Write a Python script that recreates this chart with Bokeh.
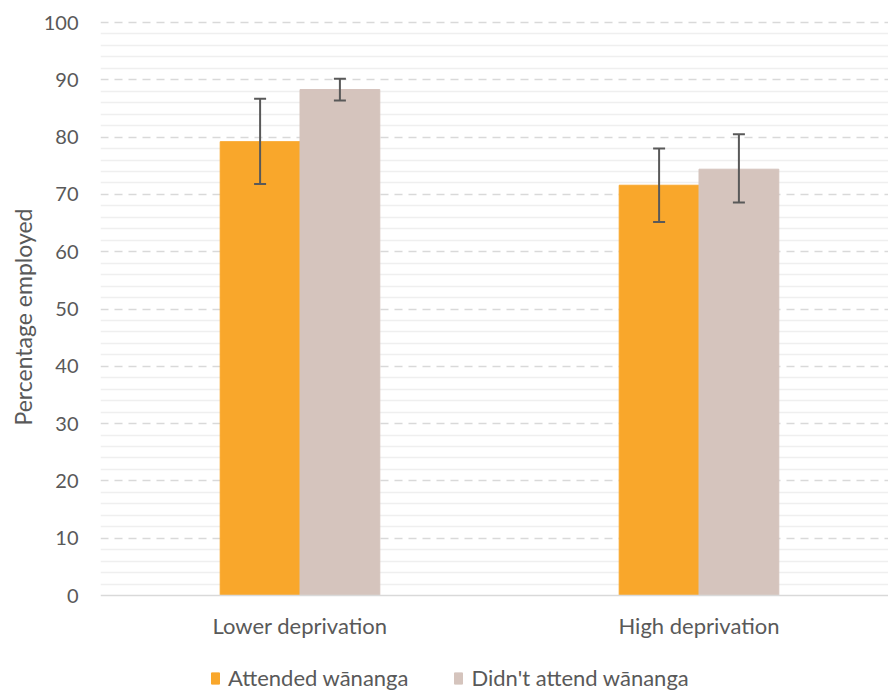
from bokeh.plotting import figure
from bokeh.models import (Range1d, FixedTicker, Legend, LegendItem, ColumnDataSource, Whisker,
                          LinearAxis, Title)
from bokeh.embed import file_html
from bokeh.resources import INLINE

categories = ["Lower deprivation", "High deprivation"]
series_names = ["Attended wānanga", "Didn't attend wānanga"]
attended = [79.2, 71.6]
attended_low = [71.8, 65.2]
attended_high = [86.7, 78.0]
not_attended = [88.3, 74.4]
not_attended_low = [86.4, 68.6]
not_attended_high = [90.2, 80.5]
colors = ["#F9A72B", "#D5C4BD"]

FONT = "Lato"
TXT = "#595959"

# value 0 sits at y=595 px, 100 at y=22 px; frame runs to the bottom of the canvas
px_per_unit = (595 - 22) / 100
top_px = 16
y_start = -(690 - 595) / px_per_unit
y_end = 100 + (22 - top_px) / px_per_unit

p = figure(width=888, height=690, output_backend="svg", toolbar_location=None,
           x_range=Range1d(0, 788 / 399), y_range=Range1d(y_start, y_end),
           x_axis_location=None,
           min_border_left=100, min_border_top=top_px, min_border_bottom=0, min_border_right=0)
p.outline_line_color = None
p.background_fill_color = "white"

centers = [i + 0.5 for i in range(len(categories))]
bw = 0.2
series = [(attended, attended_low, attended_high), (not_attended, not_attended_low, not_attended_high)]
renderers = []
for k, (vals, lo, hi) in enumerate(series):
    xs = [c + (k - 0.5) * bw for c in centers]
    src = ColumnDataSource(dict(x=xs, top=vals, lo=lo, hi=hi))
    r = p.vbar(x="x", top="top", width=bw, source=src, fill_color=colors[k],
               line_color=colors[k], line_width=1)
    renderers.append(r)
    w = Whisker(base="x", lower="lo", upper="hi", source=src, line_color="#595959",
                line_width=2, level="overlay")
    for h in (w.upper_head, w.lower_head):
        h.size = 12
        h.line_color = "#595959"
        h.line_width = 2
    p.add_layout(w)

minor = [v for v in range(0, 101, 2) if v % 10]
p.ygrid.ticker = FixedTicker(ticks=list(range(10, 101, 10)), minor_ticks=minor)
p.ygrid.grid_line_color = "#D9D9D9"
p.ygrid.grid_line_dash = "8 6"
p.ygrid.grid_line_width = 1.5
p.ygrid.minor_grid_line_color = "#EFEFEF"
p.ygrid.minor_grid_line_width = 1.5
p.xgrid.grid_line_color = None

p.yaxis.ticker = FixedTicker(ticks=list(range(0, 101, 10)), minor_ticks=minor)
p.yaxis.axis_line_color = None
p.yaxis.major_tick_line_color = None
p.yaxis.minor_tick_line_color = None
p.yaxis.major_tick_out = 0
p.yaxis.major_tick_in = 0
p.yaxis.minor_tick_out = 0
p.yaxis.minor_tick_in = 0
p.yaxis.major_label_text_font = FONT
p.yaxis.major_label_text_font_size = "20px"
p.yaxis.major_label_text_color = TXT
p.yaxis.major_label_standoff = 22

ytitle = Title(text="Percentage employed", align="left", offset=265, standoff=8,
               text_font=FONT, text_font_size="23px", text_font_style="normal",
               text_color=TXT)
p.add_layout(ytitle, "left")

xaxis = LinearAxis(fixed_location=0, ticker=FixedTicker(ticks=centers),
                   major_label_overrides={c: name for c, name in zip(centers, categories)})
xaxis.axis_line_color = "#D9D9D9"
xaxis.axis_line_width = 1.5
xaxis.major_tick_line_color = None
xaxis.minor_tick_line_color = None
xaxis.major_tick_out = 0
xaxis.major_tick_in = 0
xaxis.minor_tick_out = 0
xaxis.minor_tick_in = 0
xaxis.major_label_text_font = FONT
xaxis.major_label_text_font_size = "22px"
xaxis.major_label_text_color = TXT
xaxis.major_label_standoff = 16
p.add_layout(xaxis, "below")

legend = Legend(items=[LegendItem(label=n, renderers=[r]) for n, r in zip(series_names, renderers)],
                orientation="horizontal", location=(110, -1))
legend.glyph_width = 10
legend.glyph_height = 14
legend.label_text_font = FONT
legend.label_text_font_size = "22px"
legend.label_text_color = TXT
legend.spacing = 45
legend.padding = 0
legend.margin = 0
legend.label_standoff = 8
legend.border_line_color = None
legend.background_fill_alpha = 0
p.add_layout(legend, "center")

open("out.html", "w").write(file_html(p, INLINE))
